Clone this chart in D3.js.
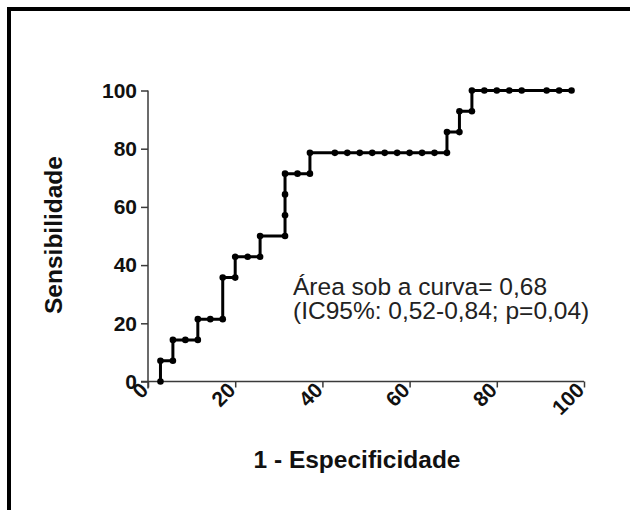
<!DOCTYPE html>
<html>
<head>
<meta charset="utf-8">
<script src="https://cdn.jsdelivr.net/npm/d3@7"></script>
<style>
  html, body { margin: 0; padding: 0; background: #fff; }
  svg { display: block; }
  text { font-family: "Liberation Sans", Arial, Helvetica, sans-serif; }
</style>
</head>
<body>
<svg id="chart" width="630" height="510"></svg>
<script>
// 1 - Especificidade (%) for each ROC point
const fpr = [2.86, 2.86, 5.71, 5.71, 8.57, 11.43, 11.43, 14.29, 17.14, 17.14,
             20, 20, 22.86, 25.71, 25.71, 31.43, 31.43, 31.43, 31.43, 34.29,
             37.14, 37.14, 42.86, 45.71, 48.57, 51.43, 54.29, 57.14, 60, 62.86,
             65.71, 68.57, 68.57, 71.43, 71.43, 74.29, 74.29, 77.14, 80, 82.86,
             85.71, 91.43, 94.29, 97.14];
// Sensibilidade (%) for each ROC point
const sens = [0, 7.14, 7.14, 14.29, 14.29, 14.29, 21.43, 21.43, 21.43, 35.71,
              35.71, 42.86, 42.86, 42.86, 50, 50, 57.14, 64.29, 71.43, 71.43,
              71.43, 78.57, 78.57, 78.57, 78.57, 78.57, 78.57, 78.57, 78.57, 78.57,
              78.57, 78.57, 85.71, 85.71, 92.86, 92.86, 100, 100, 100, 100,
              100, 100, 100, 100];
const xTicks = [0, 20, 40, 60, 80, 100];
const yTicks = [0, 20, 40, 60, 80, 100];
const xLabel = "1 - Especificidade";
const yLabel = "Sensibilidade";
const annot = ["Área sob a curva= 0,68", "(IC95%: 0,52-0,84; p=0,04)"];

const pts = fpr.map((x, i) => ({ x: x, y: sens[i] }));

const svg = d3.select("#chart");

// frame (cut at right and bottom)
svg.append("path")
  .attr("d", "M9,512V9H632")
  .attr("fill", "none")
  .attr("stroke", "#000")
  .attr("stroke-width", 4);

const x = d3.scaleLinear().domain([0, 100]).range([148, 584]);
const y = d3.scaleLinear().domain([0, 100]).range([381.5, 90.5]);

const axisColor = "#3a3a3a";

// Y axis
const gy = svg.append("g").attr("transform", "translate(148,0)")
  .call(d3.axisLeft(y).tickValues(yTicks).tickSize(7).tickPadding(4).tickFormat(d3.format("d")));
gy.select(".domain").attr("d", "M0," + y(100) + "V" + (y(0) + 7)).attr("stroke", axisColor).attr("stroke-width", 1.5);
gy.selectAll(".tick line").attr("stroke", axisColor).attr("stroke-width", 1.5);
gy.selectAll(".tick text")
  .attr("font-size", 21).attr("font-weight", "bold").attr("fill", "#111")
  .attr("font-family", "'Liberation Sans', Arial, sans-serif");

// X axis
const gx = svg.append("g").attr("transform", "translate(0," + y(0) + ")")
  .call(d3.axisBottom(x).tickValues(xTicks).tickSize(6).tickFormat(d3.format("d")));
gx.select(".domain").attr("d", "M" + (x(0) - 7) + ",0H" + x(100)).attr("stroke", axisColor).attr("stroke-width", 1.5);
gx.selectAll(".tick line").attr("stroke", axisColor).attr("stroke-width", 1.5);
gx.selectAll(".tick text")
  .attr("font-size", 21).attr("font-weight", "bold").attr("fill", "#111")
  .attr("font-family", "'Liberation Sans', Arial, sans-serif")
  .attr("text-anchor", "end")
  .attr("dy", null)
  .attr("y", null)
  .attr("transform", "translate(1,10) rotate(-45)");

// ROC curve
const line = d3.line().x(d => x(d.x)).y(d => y(d.y));
svg.append("path")
  .datum(pts)
  .attr("d", line)
  .attr("fill", "none")
  .attr("stroke", "#000")
  .attr("stroke-width", 3)
  .attr("stroke-linejoin", "miter");

svg.append("g").selectAll("circle")
  .data(pts)
  .join("circle")
  .attr("cx", d => x(d.x))
  .attr("cy", d => y(d.y))
  .attr("r", 3.3)
  .attr("fill", "#000");

// axis titles
svg.append("text")
  .attr("transform", "translate(62,235) rotate(-90)")
  .attr("text-anchor", "middle")
  .attr("font-size", 24.5)
  .attr("font-weight", "bold")
  .attr("fill", "#111")
  .text(yLabel);

svg.append("text")
  .attr("x", 357)
  .attr("y", 468)
  .attr("text-anchor", "middle")
  .attr("font-size", 24.5)
  .attr("font-weight", "bold")
  .attr("fill", "#111")
  .text(xLabel);

// annotation
const ta = svg.append("text")
  .attr("font-size", 24.5)
  .attr("fill", "#222");
ta.append("tspan").attr("x", 293).attr("y", 295).text(annot[0]);
ta.append("tspan").attr("x", 293).attr("y", 319).text(annot[1]);
</script>
</body>
</html>
